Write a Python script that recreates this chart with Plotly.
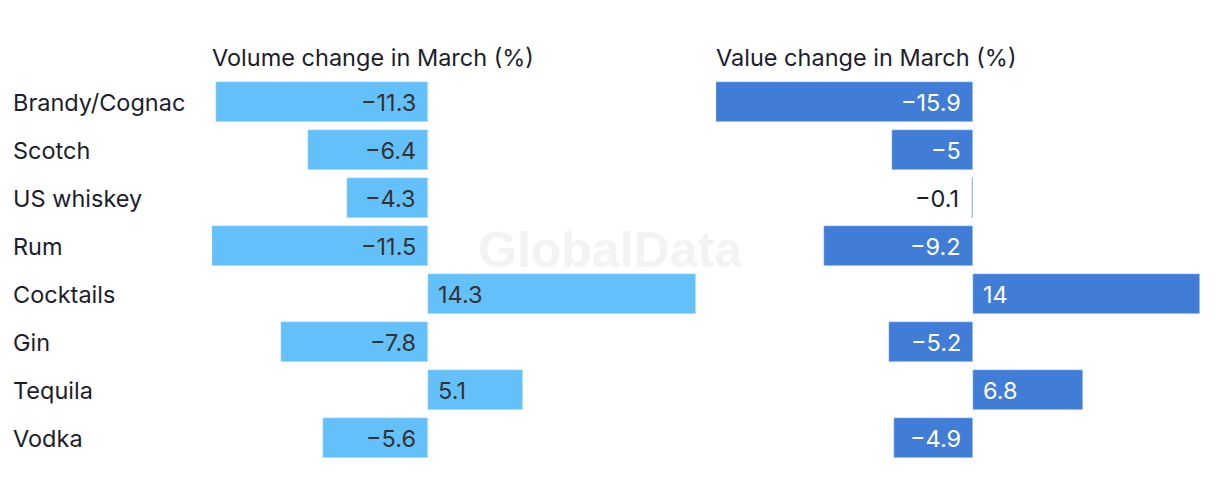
import plotly.graph_objects as go

categories = ["Brandy/Cognac", "Scotch", "US whiskey", "Rum", "Cocktails", "Gin", "Tequila", "Vodka"]
volume_change = [-11.3, -6.4, -4.3, -11.5, 14.3, -7.8, 5.1, -5.6]
value_change = [-15.9, -5, -0.1, -9.2, 14, -5.2, 6.8, -4.9]
titles = ["Volume change in March (%)", "Value change in March (%)"]

OFF = 8  # default page body margin
W, H = 1220 - OFF, 500 - OFF
FONT = "Inter"
FS = 23.5
LIGHT = "#64C0F8"
DARK = "#417DD6"
TXT = "#1d1d2b"

def px(x):
    return (x - OFF) / W

def py(y):
    return 1 - (y - OFF) / H

def fmt(v):
    s = ("%g" % abs(v))
    return ("\u2212" + s) if v < 0 else s

fig = go.Figure()
fig.add_trace(go.Bar(y=categories, x=volume_change, orientation="h", marker_color=LIGHT,
                     width=0.83, xaxis="x", yaxis="y", hoverinfo="skip"))
fig.add_trace(go.Bar(y=categories, x=value_change, orientation="h", marker_color=DARK,
                     width=0.83, xaxis="x2", yaxis="y2", hoverinfo="skip"))

ann = []
for c in categories:
    ann.append(dict(x=px(11), xref="paper", y=c, yref="y", text=c, showarrow=False,
                    xanchor="left", yanchor="middle", font=dict(size=FS, color=TXT, family=FONT)))
for c, v in zip(categories, volume_change):
    ann.append(dict(x=0, xref="x", y=c, yref="y", text=fmt(v), showarrow=False,
                    xanchor="right" if v < 0 else "left", xshift=-10 if v < 0 else 8,
                    yanchor="middle", font=dict(size=FS, color="#333333", family=FONT)))
for c, v in zip(categories, value_change):
    inside = abs(v) > 1
    ann.append(dict(x=0, xref="x2", y=c, yref="y2", text=fmt(v), showarrow=False,
                    xanchor="right" if v < 0 else "left", xshift=(-10 if inside else -12) if v < 0 else 8,
                    yanchor="middle", font=dict(size=FS, color="white" if inside else TXT, family=FONT)))
ann.append(dict(x=px(210), xref="paper", y=py(58), yref="paper", text=titles[0], showarrow=False,
                xanchor="left", yanchor="middle", font=dict(size=FS, color=TXT, family=FONT)))
ann.append(dict(x=px(714), xref="paper", y=py(58), yref="paper", text=titles[1], showarrow=False,
                xanchor="left", yanchor="middle", font=dict(size=FS, color=TXT, family=FONT)))
ann.append(dict(x=px(610), xref="paper", y=py(250), yref="paper", text="<b>GlobalData</b>", showarrow=False,
                xanchor="center", yanchor="middle", font=dict(size=50, color="#f3f3f3", family="Liberation Sans")))

axis_common = dict(visible=False, showgrid=False, zeroline=False, fixedrange=True)
ydom = [py(462), py(78)]
n = len(categories)
fig.update_layout(
    width=W, height=H,
    margin=dict(l=0, r=0, t=0, b=0),
    paper_bgcolor="white", plot_bgcolor="rgba(0,0,0,0)",
    showlegend=False,
    bargap=0,
    xaxis=dict(domain=[px(212), px(696)], range=[min(volume_change), max(volume_change)], **axis_common),
    xaxis2=dict(domain=[px(716), px(1200)], range=[min(value_change), max(value_change)], **axis_common),
    yaxis=dict(domain=ydom, range=[n - 0.5, -0.5], **axis_common),
    yaxis2=dict(domain=ydom, range=[n - 0.5, -0.5], anchor="x2", **axis_common),
    annotations=ann,
    font=dict(family=FONT),
)
fig.write_html("out.html")
